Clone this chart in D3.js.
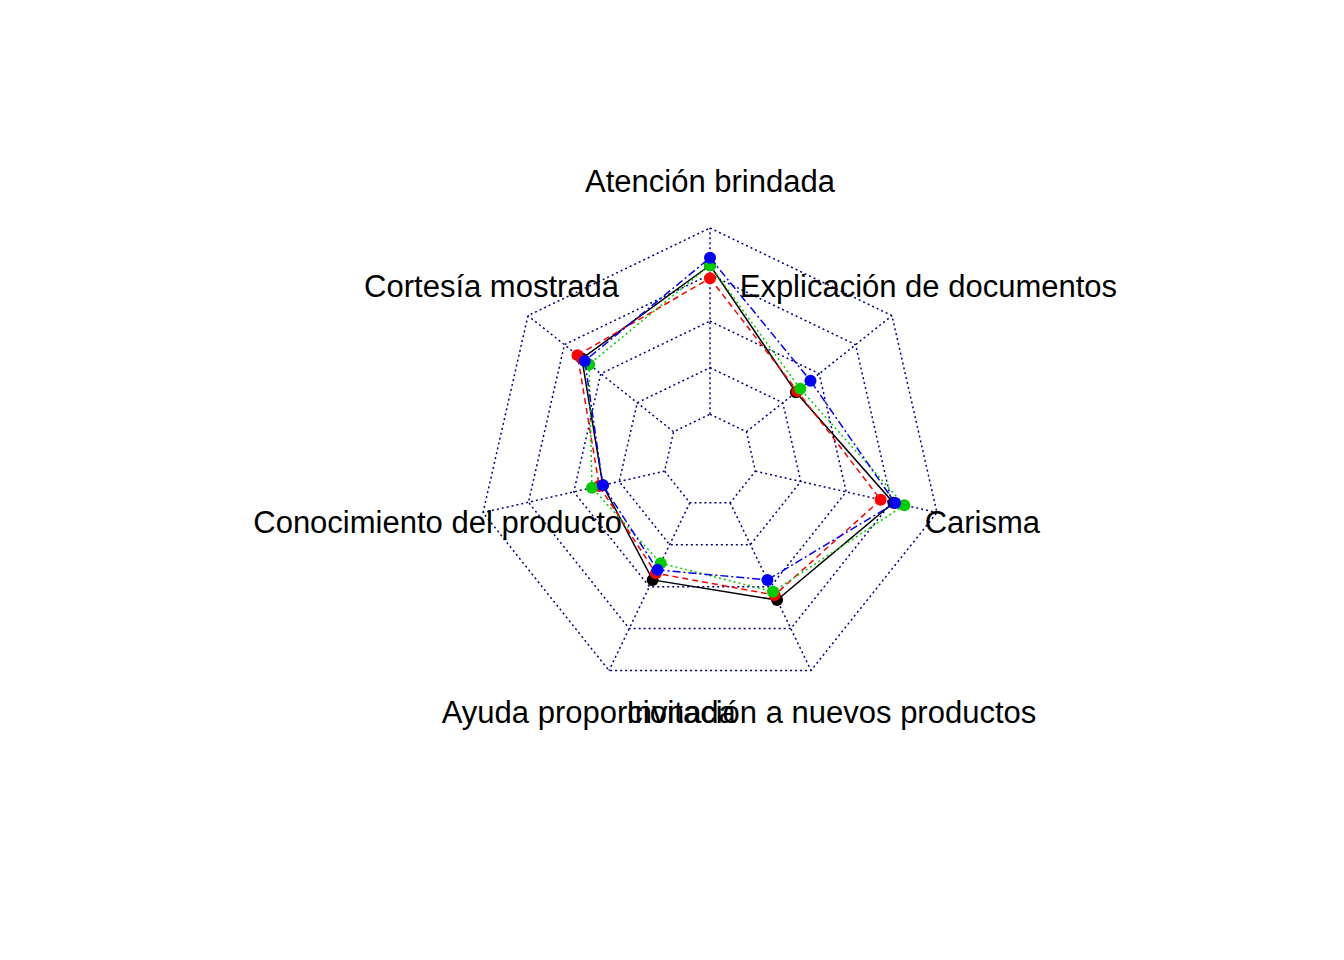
<!DOCTYPE html>
<html><head><meta charset="utf-8">
<script src="https://cdn.jsdelivr.net/npm/d3@7"></script>
<style>body{margin:0;background:#fff}</style></head>
<body><svg id="chart"></svg>
<script>
// axis names, clockwise from top
const axes = ['Atención brindada', 'Explicación de documentos', 'Carisma',
  'Invitación a nuevos productos', 'Ayuda proporcionada', 'Conocimiento del producto', 'Cortesía mostrada'];
// normalised values 0..1 (fmsb style: centre offset by one segment)
const serie1 = [0.80, 0.34, 0.76, 0.58, 0.46, 0.34, 0.63];
const serie2 = [0.73, 0.35, 0.69, 0.55, 0.42, 0.36, 0.66];
const serie3 = [0.80, 0.37, 0.82, 0.53, 0.36, 0.40, 0.58];
const serie4 = [0.84, 0.44, 0.77, 0.46, 0.40, 0.34, 0.61];
const seriesColors = ['#000000', '#FF0000', '#00CD00', '#0000FF'];
const seriesDash = ['none', '6,4', '2,3', '8,3,2,3'];
const seg = 4;

const width = 1344, height = 960;
const cx = 710, cy = 460.8, R = 232.8;
const svg = d3.select('#chart').attr('width', width).attr('height', height);

const n = axes.length;
const angle = d3.scaleLinear().domain([0, n]).range([Math.PI / 2, Math.PI / 2 - 2 * Math.PI]);
const rScale = d3.scaleLinear().domain([0, 1]).range([R / (seg + 1), R]);
const pt = (i, r) => [cx + r * Math.cos(angle(i)), cy - r * Math.sin(angle(i))];

// grid polygons
for (let k = 0; k <= seg; k++) {
  const r = R * (k + 1) / (seg + 1);
  svg.append('polygon')
    .attr('points', d3.range(n).map(i => pt(i, r).join(',')).join(' '))
    .attr('fill', 'none').attr('stroke', '#000080').attr('stroke-dasharray', '2,3').attr('stroke-width', 1.5);
}
// axis lines
d3.range(n).forEach(i => {
  const a = pt(i, R / (seg + 1)), b = pt(i, R);
  svg.append('line').attr('x1', a[0]).attr('y1', a[1]).attr('x2', b[0]).attr('y2', b[1])
    .attr('stroke', '#000080').attr('stroke-dasharray', '2,3').attr('stroke-width', 1.5);
});

// series
[serie1, serie2, serie3, serie4].forEach((s, j) => {
  const pts = s.map((v, i) => pt(i, rScale(v)));
  svg.append('polygon').attr('points', pts.map(p => p.join(',')).join(' '))
    .attr('fill', 'none').attr('stroke', seriesColors[j]).attr('stroke-width', 1.5)
    .attr('stroke-dasharray', seriesDash[j]);
  svg.selectAll(null).data(pts).enter().append('circle')
    .attr('cx', d => d[0]).attr('cy', d => d[1]).attr('r', 6).attr('fill', seriesColors[j]);
});

// labels (the two bottom ones overlap in the original too)
axes.forEach((t, i) => {
  const p = pt(i, 1.2 * R);
  svg.append('text').attr('x', p[0]).attr('y', p[1]).attr('text-anchor', 'middle')
    .attr('dominant-baseline', 'central')
    .style('font-family', 'Liberation Sans, Arial, sans-serif').style('font-size', '31px')
    .text(t);
});
</script></body></html>
